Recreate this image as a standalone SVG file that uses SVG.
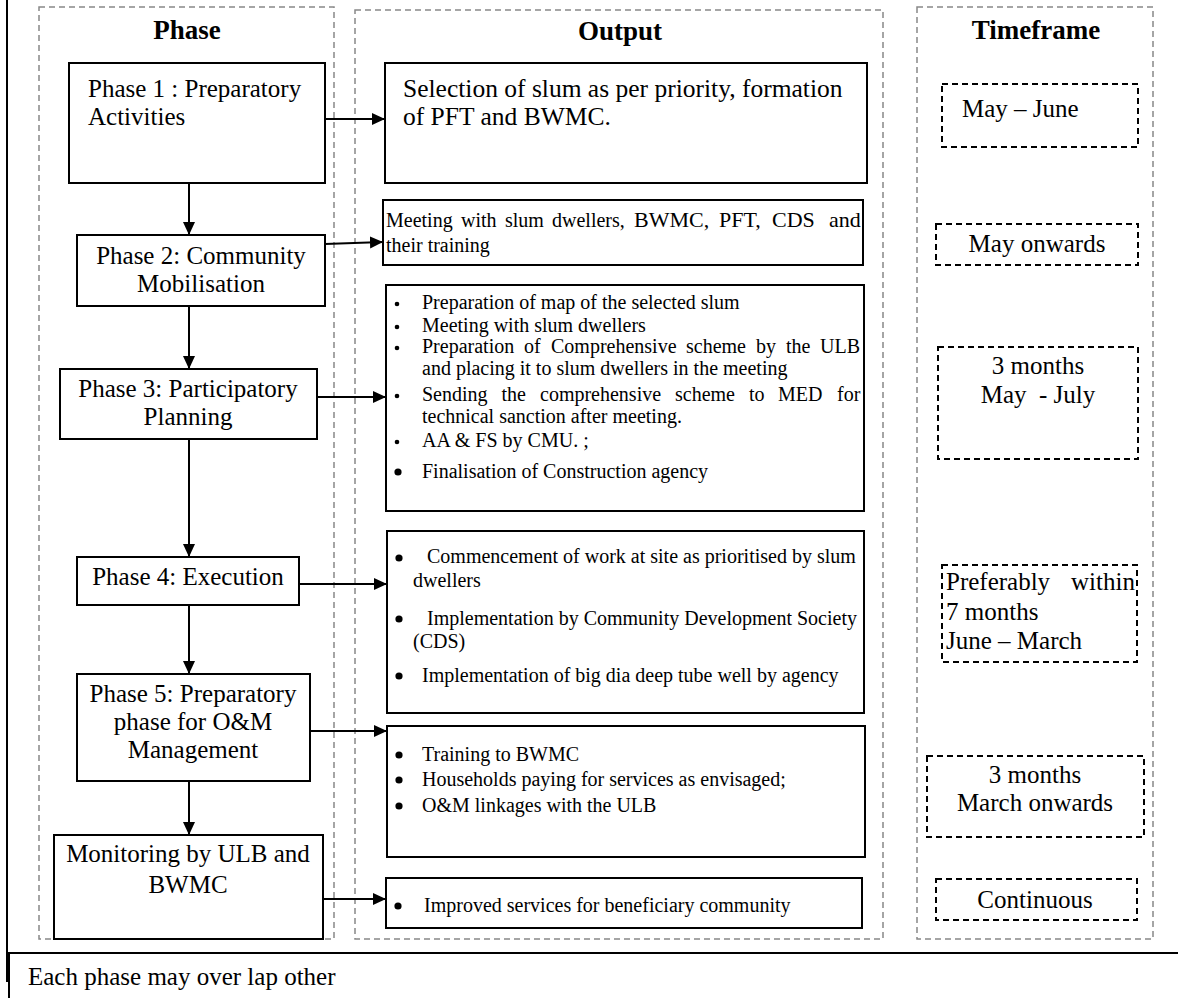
<svg xmlns="http://www.w3.org/2000/svg" width="1178" height="998" viewBox="0 0 1178 998">
<style>
text{font-family:"Liberation Serif","Times New Roman",serif;fill:#000}
.t25{font-size:25px}
.t20{font-size:20px}
.hd{font-size:27px;font-weight:bold}
.mid{text-anchor:middle}
.box{fill:#fff;stroke:#000;stroke-width:2}
.col{fill:none;stroke:#888;stroke-width:1.5;stroke-dasharray:6 4}
.tf{fill:#fff;stroke:#000;stroke-width:2;stroke-dasharray:6 4}
.con{fill:none;stroke:#000;stroke-width:2}
.frame{fill:none;stroke:#000;stroke-width:2}
</style>
<defs>
<marker id="ah" markerUnits="userSpaceOnUse" markerWidth="14" markerHeight="14" refX="13" refY="6" orient="auto">
<path d="M0,0 L13,6 L0,12 Z" fill="#000"/>
</marker>
</defs>
<rect width="1178" height="998" fill="#fff"/>

<g id="frame">
<line class="frame" x1="7" y1="0" x2="7" y2="982"/>
<line class="frame" x1="7" y1="953" x2="1178" y2="953"/>
<line class="frame" x1="9" y1="953" x2="9" y2="998"/>
</g>

<g id="columns">
<rect class="col" x="39" y="7" width="295" height="932"/>
<rect class="col" x="355" y="10" width="528" height="929"/>
<rect class="col" x="917" y="7" width="236" height="932"/>
<text class="hd mid" x="187" y="39">Phase</text>
<text class="hd mid" x="620" y="40">Output</text>
<text class="hd mid" x="1036" y="39">Timeframe</text>
</g>

<g id="connectors">
<line class="con" x1="189" y1="183" x2="189" y2="235" marker-end="url(#ah)"/>
<line class="con" x1="189" y1="306" x2="189" y2="369" marker-end="url(#ah)"/>
<line class="con" x1="189" y1="439" x2="189" y2="557" marker-end="url(#ah)"/>
<line class="con" x1="189" y1="605" x2="189" y2="674" marker-end="url(#ah)"/>
<line class="con" x1="189" y1="781" x2="189" y2="835" marker-end="url(#ah)"/>
<line class="con" x1="325" y1="119" x2="385" y2="119" marker-end="url(#ah)"/>
<line class="con" x1="325" y1="244" x2="383" y2="242" marker-end="url(#ah)"/>
<line class="con" x1="317" y1="397" x2="386" y2="397" marker-end="url(#ah)"/>
<line class="con" x1="299" y1="584" x2="387" y2="584" marker-end="url(#ah)"/>
<line class="con" x1="299" y1="731" x2="387" y2="731" marker-end="url(#ah)"/>
<line class="con" x1="323" y1="899" x2="386" y2="899" marker-end="url(#ah)"/>
</g>

<g id="phase1">
<rect class="box" x="69" y="63" width="256" height="120"/>
<text class="t25" x="88" y="97">Phase 1 : Preparatory</text>
<text class="t25" x="88" y="125">Activities</text>
</g>
<g id="phase2">
<rect class="box" x="77" y="235" width="248" height="71"/>
<text class="t25 mid" x="201" y="264">Phase 2: Community</text>
<text class="t25 mid" x="201" y="292">Mobilisation</text>
</g>
<g id="phase3">
<rect class="box" x="60" y="369" width="257" height="70"/>
<text class="t25 mid" x="188" y="397">Phase 3: Participatory</text>
<text class="t25 mid" x="188" y="425">Planning</text>
</g>
<g id="phase4">
<rect class="box" x="77" y="557" width="222" height="48"/>
<text class="t25 mid" x="188" y="585">Phase 4: Execution</text>
</g>
<g id="phase5">
<rect class="box" x="77" y="674" width="233" height="107"/>
<text class="t25 mid" x="193" y="702">Phase 5: Preparatory</text>
<text class="t25 mid" x="193" y="730">phase for O&amp;M</text>
<text class="t25 mid" x="193" y="758">Management</text>
</g>
<g id="monitoring">
<rect class="box" x="54" y="835" width="269" height="104"/>
<text class="t25 mid" x="188" y="862">Monitoring by ULB and</text>
<text class="t25 mid" x="188" y="893">BWMC</text>
</g>

<g id="output1">
<rect class="box" x="385" y="63" width="482" height="120"/>
<text style="font-size:25.5px" x="403" y="97">Selection of slum as per priority, formation</text>
<text style="font-size:25.5px" x="403" y="125">of PFT and BWMC.</text>
</g>
<g id="output2">
<rect class="box" x="383" y="200" width="480" height="65"/>
<text class="t20" y="227"><tspan x="386">Meeting</tspan><tspan x="461">with</tspan><tspan x="505">slum</tspan><tspan x="552">dwellers,</tspan></text>
<text style="font-size:22px" y="227"><tspan x="634">BWMC,</tspan><tspan x="719">PFT,</tspan><tspan x="772">CDS</tspan><tspan x="829">and</tspan></text>
<text class="t20" x="386" y="252">their training</text>
</g>
<g id="output3">
<rect class="box" x="386" y="285" width="478" height="226"/>
<circle cx="397" cy="304" r="2.3"/>
<circle cx="397" cy="327" r="2.3"/>
<circle cx="397" cy="348" r="2.3"/>
<circle cx="397" cy="396" r="2.3"/>
<circle cx="397" cy="442" r="2.3"/>
<circle cx="398" cy="472" r="3.6"/>
<text class="t20" x="422" y="309">Preparation of map of the selected slum</text>
<text class="t20" x="422" y="332">Meeting with slum dwellers</text>
<text class="t20" y="353"><tspan x="422">Preparation</tspan><tspan x="524">of</tspan><tspan x="551">Comprehensive</tspan><tspan x="686">scheme</tspan><tspan x="756">by</tspan><tspan x="786">the</tspan><tspan x="820">ULB</tspan></text>
<text class="t20" x="422" y="375">and placing it to slum dwellers in the meeting</text>
<text class="t20" y="401"><tspan x="422">Sending</tspan><tspan x="501.5">the</tspan><tspan x="540">comprehensive</tspan><tspan x="675">scheme</tspan><tspan x="749">to</tspan><tspan x="778">MED</tspan><tspan x="837">for</tspan></text>
<text class="t20" x="422" y="423">technical sanction after meeting.</text>
<text class="t20" x="422" y="447">AA &amp; FS by CMU. ;</text>
<text class="t20" x="422" y="478">Finalisation of Construction agency</text>
</g>
<g id="output4">
<rect class="box" x="387" y="531" width="477" height="182"/>
<circle cx="399" cy="558" r="3.6"/>
<circle cx="399" cy="619" r="3.6"/>
<circle cx="399" cy="676" r="3.6"/>
<text class="t20" x="427" y="563">Commencement of work at site as prioritised by slum</text>
<text class="t20" x="413" y="587">dwellers</text>
<text class="t20" x="427" y="625">Implementation by Community Development Society</text>
<text class="t20" x="413" y="648">(CDS)</text>
<text class="t20" x="422" y="682">Implementation of big dia deep tube well by agency</text>
</g>
<g id="output5">
<rect class="box" x="387" y="726" width="478" height="131"/>
<circle cx="399" cy="755" r="3.6"/>
<circle cx="399" cy="780" r="3.6"/>
<circle cx="399" cy="806" r="3.6"/>
<text class="t20" x="422" y="761">Training to BWMC</text>
<text class="t20" x="422" y="786">Households paying for services as envisaged;</text>
<text class="t20" x="422" y="812">O&amp;M linkages with the ULB</text>
</g>
<g id="output6">
<rect class="box" x="386" y="878" width="476" height="50"/>
<circle cx="398" cy="906" r="3.6"/>
<text class="t20" x="424" y="912">Improved services for beneficiary community</text>
</g>

<g id="tf1">
<rect class="tf" x="942" y="84" width="196" height="63"/>
<text class="t25" x="962" y="117">May – June</text>
</g>
<g id="tf2">
<rect class="tf" x="936" y="224" width="202" height="41"/>
<text class="t25 mid" x="1037" y="252">May onwards</text>
</g>
<g id="tf3">
<rect class="tf" x="938" y="347" width="200" height="112"/>
<text class="t25 mid" x="1038" y="374">3 months</text>
<text class="t25 mid" x="1038" y="403" xml:space="preserve">May  - July</text>
</g>
<g id="tf4">
<rect class="tf" x="942" y="565" width="195" height="97"/>
<text class="t25" y="590"><tspan x="946">Preferably</tspan><tspan x="1071">within</tspan></text>
<text class="t25" x="946" y="620">7 months</text>
<text class="t25" x="946" y="649">June – March</text>
</g>
<g id="tf5">
<rect class="tf" x="927" y="756" width="217" height="81"/>
<text class="t25 mid" x="1035" y="783">3 months</text>
<text class="t25 mid" x="1035" y="811">March onwards</text>
</g>
<g id="tf6">
<rect class="tf" x="936" y="879" width="201" height="41"/>
<text class="t25 mid" x="1035" y="908">Continuous</text>
</g>

<g id="note">
<text class="t25" x="28" y="985">Each phase may over lap other</text>
</g>
</svg>
